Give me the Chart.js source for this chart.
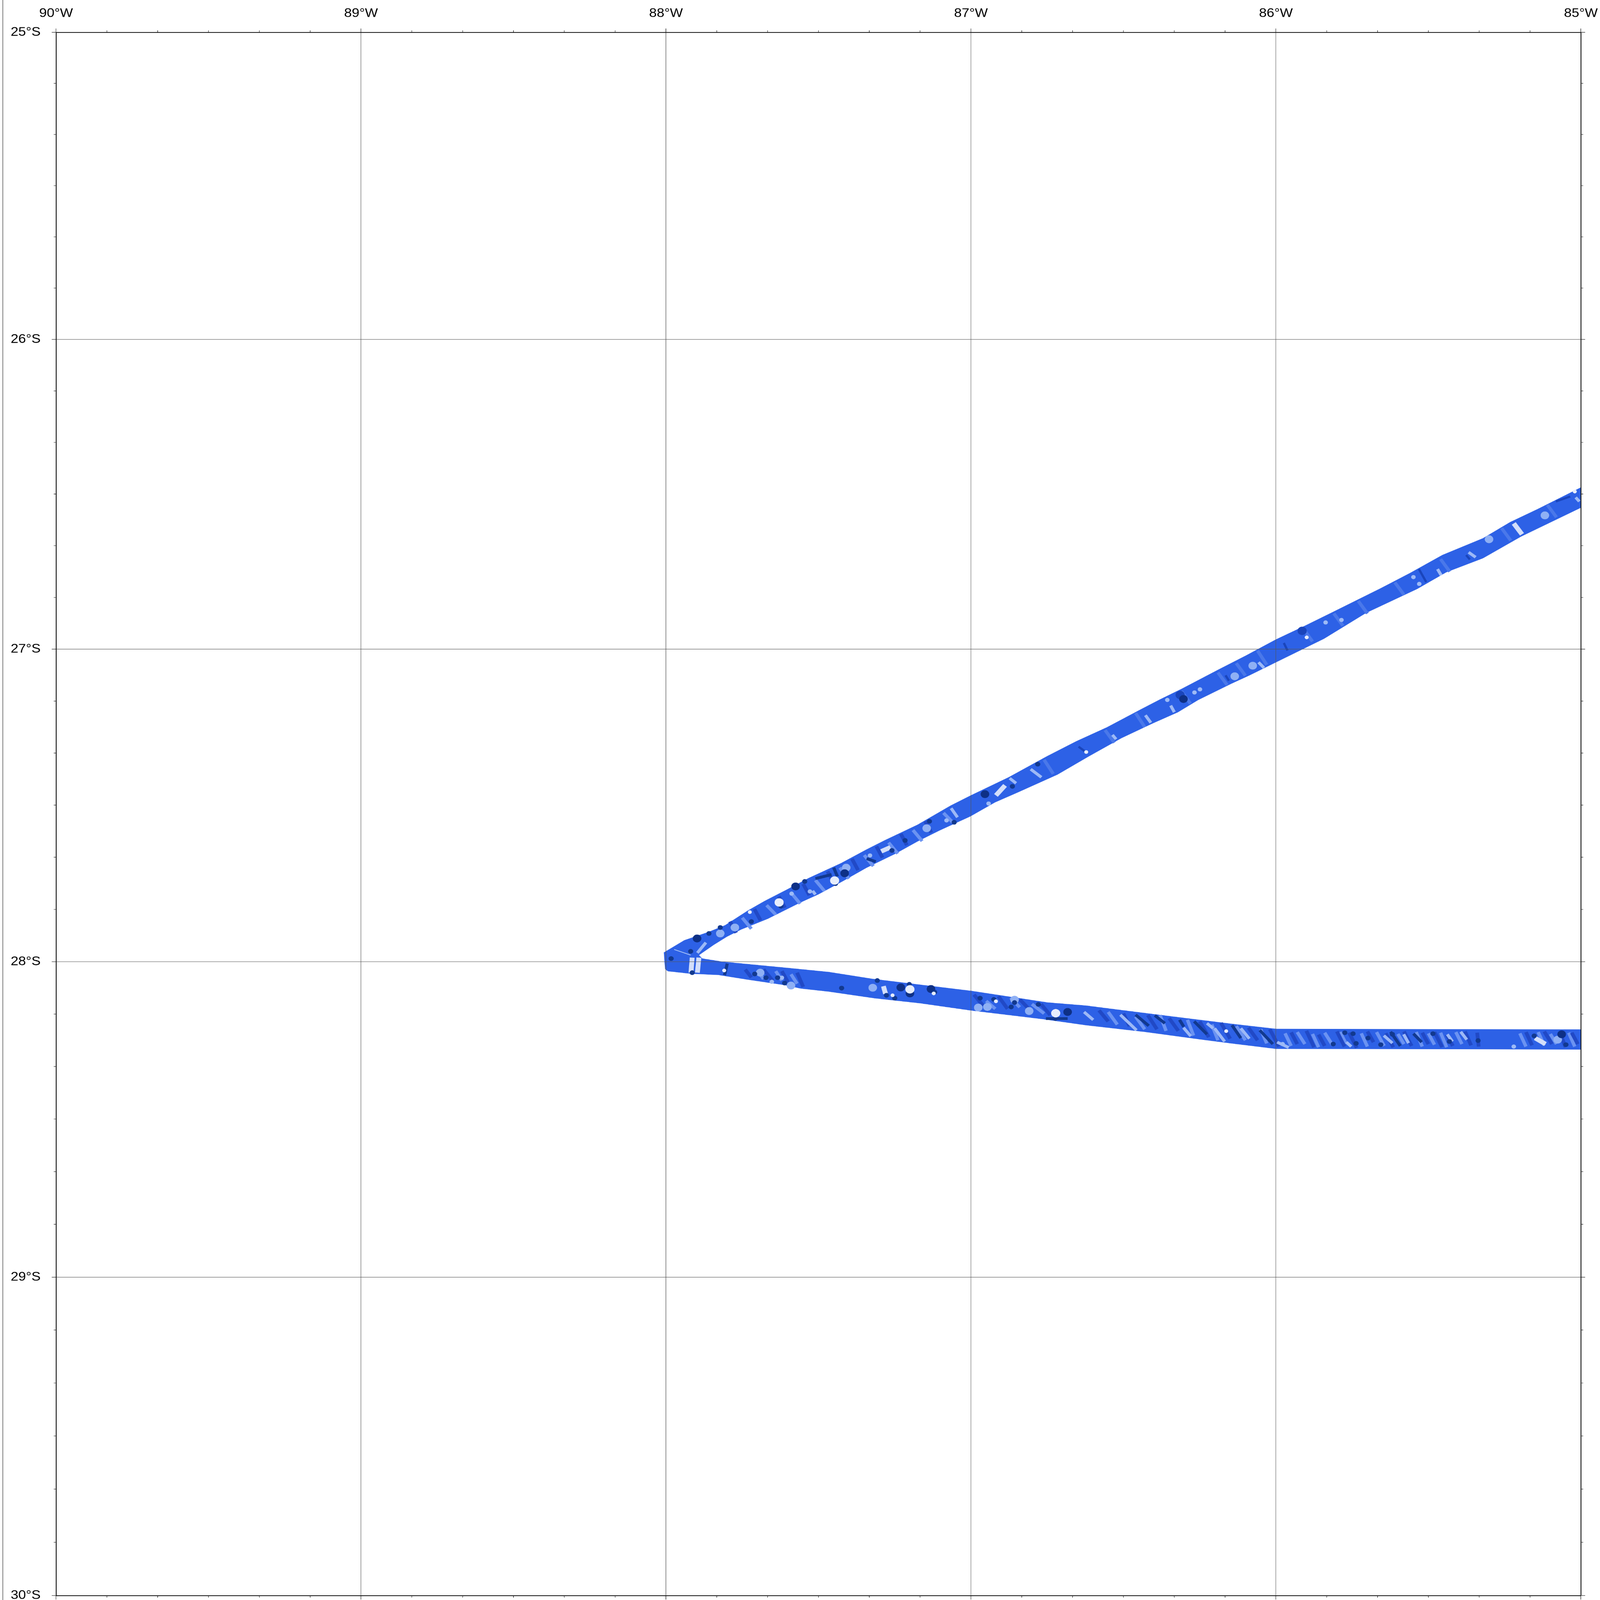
<!DOCTYPE html>
<html>
<head>
<meta charset="utf-8">
<style>
  html, body { margin: 0; padding: 0; background: #fff; overflow: hidden; }
  canvas { display: block; width: 100vw !important; height: 100vh !important; }
</style>
<script src="https://cdn.jsdelivr.net/npm/chart.js@4/dist/chart.umd.min.js"></script>
</head>
<body>
<canvas id="map" width="5598" height="6127"></canvas>
<script>
const lonTicks = [-90, -89, -88, -87, -86, -85];
const lonLabels = ['90°W', '89°W', '88°W', '87°W', '86°W', '85°W'];
const latTicks = [-30, -29, -28, -27, -26, -25];
const latLabels = ['30°S', '29°S', '28°S', '27°S', '26°S', '25°S'];
const minorPerDegree = 6;

// swath outline, lon/lat pairs, clockwise from the west tip
const swathOutline = [
  [-88.007,-27.971],[-87.976,-27.953],[-87.940,-27.932],[-87.859,-27.905],[-87.806,-27.884],[-87.731,-27.837],
  [-87.677,-27.807],[-87.607,-27.772],[-87.531,-27.733],[-87.426,-27.686],[-87.342,-27.642],[-87.283,-27.613],
  [-87.175,-27.563],[-87.067,-27.502],[-87.002,-27.470],[-86.876,-27.411],[-86.751,-27.344],[-86.655,-27.296],
  [-86.554,-27.251],[-86.446,-27.195],[-86.381,-27.162],[-86.308,-27.127],[-86.189,-27.066],[-86.099,-27.021],
  [-86.000,-26.969],[-85.903,-26.924],[-85.812,-26.880],[-85.656,-26.804],[-85.560,-26.755],[-85.454,-26.697],
  [-85.321,-26.643],[-85.232,-26.591],[-85.142,-26.549],[-85.000,-26.479],
  [-85.000,-26.544],[-85.196,-26.637],[-85.321,-26.707],[-85.441,-26.752],[-85.537,-26.806],[-85.704,-26.883],
  [-85.842,-26.966],[-86.000,-27.042],[-86.087,-27.084],[-86.147,-27.111],[-86.255,-27.163],[-86.321,-27.202],
  [-86.404,-27.238],[-86.506,-27.285],[-86.614,-27.344],[-86.716,-27.402],[-86.846,-27.459],[-86.921,-27.491],
  [-87.002,-27.536],[-87.103,-27.581],[-87.175,-27.616],[-87.247,-27.655],[-87.342,-27.700],[-87.420,-27.743],
  [-87.500,-27.785],[-87.559,-27.811],[-87.666,-27.863],[-87.753,-27.897],[-87.800,-27.920],[-87.843,-27.946],
  [-87.892,-27.979],
  [-87.881,-27.990],[-87.816,-28.000],[-87.612,-28.019],[-87.466,-28.033],[-87.322,-28.055],[-87.179,-28.072],
  [-87.000,-28.093],[-86.749,-28.130],[-86.622,-28.140],[-86.517,-28.153],[-86.336,-28.175],[-86.144,-28.198],
  [-86.000,-28.214],[-85.000,-28.216],
  [-85.000,-28.279],[-86.000,-28.277],[-86.144,-28.260],[-86.240,-28.248],[-86.431,-28.223],[-86.622,-28.202],
  [-86.761,-28.183],[-87.000,-28.155],[-87.167,-28.132],[-87.317,-28.116],[-87.466,-28.095],[-87.559,-28.085],
  [-87.612,-28.074],[-87.731,-28.057],[-87.828,-28.042],[-87.919,-28.038],[-87.994,-28.030],[-88.003,-28.023],
];

// relief in the swath: spots as lon/lat, streaks as lon1,lat1,lon2,lat2
const darkLarge = [
  [-87.230,-28.082],[-87.200,-28.101],[-87.131,-28.087],[-86.683,-28.160],[-85.063,-28.231],[-87.898,-27.926],
  [-86.954,-27.465],[-87.414,-27.718],[-86.303,-27.160],[-87.575,-27.760],
];
const darkSmall = [
  [-87.919,-27.967],[-87.983,-27.990],[-87.914,-28.035],[-87.709,-28.039],[-87.672,-28.051],[-87.634,-28.051],
  [-87.611,-28.068],[-87.424,-28.084],[-87.307,-28.060],[-87.277,-28.107],[-87.250,-28.116],[-87.202,-28.072],
  [-87.119,-28.097],[-86.925,-28.120],[-86.857,-28.130],[-86.970,-28.116],[-86.868,-28.144],[-86.779,-28.136],
  [-86.724,-28.181],[-85.774,-28.226],[-85.747,-28.229],[-85.698,-28.243],[-85.737,-28.260],[-85.812,-28.262],
  [-85.656,-28.264],[-85.618,-28.231],[-85.337,-28.251],[-85.153,-28.236],[-85.431,-28.254],[-85.485,-28.229],
  [-85.049,-28.264],[-87.720,-27.872],[-87.822,-27.891],[-87.859,-27.910],[-87.623,-27.823],[-87.545,-27.744],
  [-87.444,-27.751],[-87.259,-27.645],[-87.216,-27.613],[-87.136,-27.552],[-87.055,-27.555],[-86.864,-27.440],
  [-86.781,-27.369],
];
const paleLarge = [
  [-87.322,-28.083],[-86.857,-28.121],[-86.976,-28.146],[-86.946,-28.144],[-86.809,-28.157],[-87.590,-28.076],
  [-87.409,-27.700],[-87.145,-27.574],[-87.774,-27.891],[-87.822,-27.910],[-85.301,-26.646],[-85.118,-26.569],
  [-85.076,-28.248],[-86.135,-27.087],[-86.076,-27.053],[-87.691,-28.035],
];
const paleSmall = [
  [-87.653,-28.064],[-87.620,-28.051],[-87.331,-27.661],[-87.588,-27.783],[-87.528,-27.776],[-87.080,-27.549],
  [-86.942,-27.495],[-86.356,-27.163],[-86.267,-27.139],[-86.249,-27.129],[-85.837,-26.914],[-85.785,-26.906],
  [-85.530,-26.790],[-85.549,-26.768],[-85.220,-28.270],[-85.978,-28.262],
];
const whiteLarge = [[-87.200,-28.088],[-86.722,-28.164],[-87.629,-27.811],[-87.447,-27.741]];
const whiteSmall = [
  [-87.809,-28.028],[-87.257,-28.107],[-87.122,-28.101],[-86.918,-28.126],[-87.725,-27.842],[-86.163,-28.221],
  [-85.899,-26.962],[-86.622,-27.330],[-85.020,-26.492],
];
const deepSpots = [[-86.314,-27.147],[-85.914,-26.941]];
const whiteStreaks = [
  [-87.914,-27.987,-87.918,-28.035],[-87.892,-27.987,-87.897,-28.035],[-87.287,-28.078,-87.280,-28.102],
  [-87.294,-27.648,-87.264,-27.635],[-86.888,-27.437,-86.918,-27.469],[-85.220,-26.595,-85.193,-26.630],
  [-85.150,-28.243,-85.116,-28.262],
];
const paleStreaks = [
  [-87.869,-27.939,-87.897,-27.972],[-86.629,-28.160,-86.599,-28.185],[-86.510,-28.169,-86.457,-28.218],
  [-86.303,-28.210,-86.279,-28.237],[-86.201,-28.212,-86.168,-28.254],[-86.226,-28.196,-86.206,-28.212],
  [-86.115,-28.212,-86.087,-28.245],[-85.996,-28.256,-85.958,-28.273],[-85.769,-28.256,-85.753,-28.270],
  [-85.646,-28.235,-85.618,-28.259],[-85.581,-28.231,-85.565,-28.259],[-85.438,-28.231,-85.421,-28.254],
  [-85.394,-28.223,-85.374,-28.248],[-87.519,-27.774,-87.510,-27.786],[-87.065,-27.510,-87.044,-27.539],
  [-86.873,-27.414,-86.852,-27.430],[-86.804,-27.385,-86.769,-27.411],[-86.536,-27.275,-86.524,-27.289],
  [-86.428,-27.212,-86.410,-27.236],[-86.345,-27.181,-86.333,-27.202],[-86.057,-27.042,-86.039,-27.060],
  [-85.470,-26.742,-85.458,-26.762],[-85.368,-26.688,-85.345,-26.704],[-85.017,-26.511,-85.005,-26.524],
];
const darkStreaks = [
  [-87.799,-28.006,-87.808,-28.043],[-86.754,-28.181,-86.683,-28.181],[-86.460,-28.169,-86.417,-28.204],
  [-86.397,-28.171,-86.364,-28.196],[-86.316,-28.185,-86.302,-28.207],[-86.268,-28.190,-86.226,-28.231],
  [-86.144,-28.202,-86.115,-28.243],[-86.053,-28.218,-86.010,-28.262],[-85.624,-28.223,-85.592,-28.268],
  [-85.549,-28.229,-85.522,-28.256],[-87.510,-27.735,-87.457,-27.722],[-87.450,-27.700,-87.438,-27.728],
  [-87.342,-27.671,-87.312,-27.681],
];
const deepStreaks = [
  [-85.082,-26.524,-85.035,-26.508],[-86.647,-27.313,-86.619,-27.333],[-86.165,-27.084,-86.154,-27.101],
  [-85.974,-26.980,-85.962,-27.004],[-85.531,-26.742,-85.507,-26.784],[-85.376,-26.697,-85.364,-26.711],
];
const ridgeLines = [[-87.973,-27.961,-87.919,-27.979]];

// broad mottling across the track, under the sharper relief above
const mottleShade = [
  [-85.95,-28.225,-85.93,-28.262],[-85.90,-28.220,-85.875,-28.272],[-85.86,-28.232,-85.84,-28.268],
  [-85.80,-28.222,-85.775,-28.270],[-85.76,-28.226,-85.735,-28.274],[-85.70,-28.222,-85.68,-28.256],
  [-85.64,-28.228,-85.615,-28.272],[-85.58,-28.222,-85.555,-28.268],[-85.52,-28.226,-85.50,-28.262],
  [-85.48,-28.224,-85.455,-28.272],[-85.44,-28.232,-85.42,-28.268],[-85.38,-28.222,-85.36,-28.266],
  [-85.34,-28.226,-85.335,-28.270],[-85.18,-28.224,-85.16,-28.266],[-85.12,-28.222,-85.095,-28.262],
  [-85.07,-28.224,-85.05,-28.272],[-85.03,-28.226,-85.01,-28.262],
  [-86.58,-28.155,-86.55,-28.190],[-86.50,-28.165,-86.48,-28.205],[-86.42,-28.170,-86.39,-28.215],
  [-86.35,-28.180,-86.32,-28.220],[-86.25,-28.190,-86.22,-28.240],[-86.18,-28.195,-86.15,-28.245],
  [-86.09,-28.210,-86.06,-28.250],[-86.02,-28.215,-85.99,-28.270],
  [-86.99,-28.105,-86.96,-28.140],[-86.91,-28.110,-86.88,-28.150],[-86.84,-28.120,-86.80,-28.160],
  [-86.77,-28.135,-86.74,-28.170],
  [-87.74,-28.025,-87.72,-28.050],[-87.68,-28.025,-87.65,-28.060],[-87.62,-28.030,-87.60,-28.065],
  [-87.57,-28.035,-87.55,-28.080],
  [-87.79,-27.872,-87.77,-27.908],[-87.71,-27.832,-87.69,-27.868],[-87.63,-27.792,-87.61,-27.828],
  [-87.55,-27.752,-87.53,-27.788],[-87.47,-27.712,-87.45,-27.748],[-87.39,-27.672,-87.37,-27.708],
  [-87.31,-27.632,-87.29,-27.668],[-87.23,-27.592,-87.21,-27.628],[-87.15,-27.552,-87.13,-27.588],
];
const mottleMid = [
  [-85.97,-28.228,-85.95,-28.268],[-85.93,-28.224,-85.905,-28.262],[-85.88,-28.230,-85.86,-28.272],
  [-85.84,-28.226,-85.815,-28.264],[-85.79,-28.224,-85.77,-28.260],[-85.72,-28.228,-85.70,-28.270],
  [-85.67,-28.224,-85.645,-28.268],[-85.60,-28.230,-85.58,-28.262],[-85.54,-28.224,-85.52,-28.270],
  [-85.50,-28.228,-85.48,-28.264],[-85.46,-28.226,-85.44,-28.272],[-85.41,-28.224,-85.39,-28.262],
  [-85.20,-28.228,-85.18,-28.270],[-85.14,-28.224,-85.12,-28.266],[-85.10,-28.230,-85.08,-28.262],
  [-85.04,-28.226,-85.02,-28.270],
  [-86.55,-28.160,-86.52,-28.200],[-86.46,-28.175,-86.43,-28.215],[-86.38,-28.170,-86.36,-28.220],
  [-86.29,-28.185,-86.27,-28.235],[-86.21,-28.200,-86.19,-28.250],[-86.13,-28.205,-86.10,-28.250],
  [-86.05,-28.215,-86.03,-28.260],
  [-86.95,-28.125,-86.92,-28.150],[-86.87,-28.115,-86.84,-28.145],[-86.80,-28.135,-86.76,-28.165],
  [-87.70,-28.030,-87.68,-28.055],[-87.64,-28.030,-87.62,-28.060],[-87.59,-28.040,-87.57,-28.070],
  [-87.75,-27.860,-87.72,-27.895],[-87.67,-27.820,-87.64,-27.850],[-87.59,-27.780,-87.56,-27.815],
  [-87.51,-27.740,-87.48,-27.775],[-87.43,-27.700,-87.40,-27.735],[-87.35,-27.660,-87.32,-27.695],
  [-87.27,-27.620,-87.24,-27.655],[-87.19,-27.580,-87.16,-27.615],[-87.09,-27.525,-87.06,-27.555],
];
const mottleFaint = [
  [-86.76,-27.355,-86.73,-27.400],[-86.56,-27.260,-86.53,-27.300],[-86.46,-27.205,-86.43,-27.250],
  [-86.31,-27.135,-86.28,-27.175],[-86.19,-27.075,-86.16,-27.115],[-86.13,-27.045,-86.10,-27.085],
  [-86.06,-27.005,-86.03,-27.050],[-85.91,-26.935,-85.88,-26.975],[-85.81,-26.885,-85.78,-26.925],
  [-85.73,-26.845,-85.70,-26.885],[-85.61,-26.785,-85.58,-26.825],[-85.46,-26.710,-85.43,-26.750],
  [-85.26,-26.610,-85.23,-26.650],[-85.11,-26.535,-85.08,-26.575],
];

// Mercator northing, the map's y axis is linear in this
function merc(lat) {
  return Math.log(Math.tan(Math.PI / 4 + lat * Math.PI / 360));
}
const spot = (pairs) => pairs.map(([lon, lat]) => ({ x: lon, y: merc(lat) }));
function streak(rows) {
  const out = [];
  rows.forEach(([a, b, c, d]) => {
    out.push({ x: a, y: merc(b) }, { x: c, y: merc(d) }, { x: null, y: null });
  });
  return out;
}

const spotSet = (pairs, color, radius) => ({
  data: spot(pairs), showLine: false, pointStyle: 'circle',
  pointRadius: radius, pointBorderWidth: 0, pointBackgroundColor: color,
});
const streakSet = (rows, color, width) => ({
  data: streak(rows), showLine: true, spanGaps: false, pointRadius: 0,
  borderColor: color, borderWidth: width, borderCapStyle: 'butt',
});

// minor ticks round the frame, page rule at the far left
const frameTicks = {
  id: 'frameTicks',
  afterDraw(chart) {
    const { ctx, chartArea: a, scales } = chart;
    const len = 8;
    ctx.save();
    ctx.strokeStyle = '#111';
    ctx.lineWidth = 1.5;
    ctx.beginPath();
    for (let d = 0; d < lonTicks.length - 1; d++) {
      for (let m = 1; m < minorPerDegree; m++) {
        const x = scales.x.getPixelForValue(lonTicks[d] + m / minorPerDegree);
        ctx.moveTo(x, a.top); ctx.lineTo(x, a.top - len);
        ctx.moveTo(x, a.bottom); ctx.lineTo(x, a.bottom + len);
        const y = scales.y.getPixelForValue(merc(latTicks[d] + m / minorPerDegree));
        ctx.moveTo(a.left, y); ctx.lineTo(a.left - len, y);
        ctx.moveTo(a.right, y); ctx.lineTo(a.right + len, y);
      }
    }
    ctx.stroke();
    ctx.strokeStyle = '#444';
    ctx.lineWidth = 2;
    ctx.beginPath();
    ctx.moveTo(10, 0); ctx.lineTo(10, chart.height);
    ctx.stroke();
    ctx.restore();
  },
};

const lonScale = (position, size, labelled) => ({
  type: 'linear', position, min: lonTicks[0], max: lonTicks[lonTicks.length - 1],
  afterBuildTicks: (s) => { s.ticks = lonTicks.map((v) => ({ value: v })); },
  afterFit: (s) => { s.height = size; s.paddingLeft = 0; s.paddingRight = 0; },
  border: { display: true, color: '#111', width: 3, z: 2 },
  grid: {
    z: 1, drawOnChartArea: labelled, color: '#555', lineWidth: 1.5,
    tickColor: '#111', tickWidth: 1.5, tickLength: 15,
  },
  ticks: {
    display: labelled, autoSkip: false, maxRotation: 0, padding: 28, color: '#000',
    font: { family: '"Liberation Sans"', size: 48 },
    callback: (v, i) => lonLabels[i],
  },
});
const latScale = (position, size, labelled) => ({
  type: 'linear', position, min: merc(latTicks[0]), max: merc(latTicks[latTicks.length - 1]),
  afterBuildTicks: (s) => { s.ticks = latTicks.map((v) => ({ value: merc(v) })); },
  afterFit: (s) => { s.width = size; s.paddingTop = 0; s.paddingBottom = 0; },
  border: { display: true, color: '#111', width: 3, z: 2 },
  grid: {
    z: 1, drawOnChartArea: labelled, color: '#555', lineWidth: 1.5,
    tickColor: '#111', tickWidth: 1.5, tickLength: 15,
  },
  ticks: {
    display: labelled, autoSkip: false, padding: 39, color: '#000',
    font: { family: '"Liberation Sans"', size: 48 },
    callback: (v, i) => latLabels[i],
  },
});

new Chart(document.getElementById('map'), {
  type: 'scatter',
  data: {
    // first dataset is painted last
    datasets: [
      spotSet(whiteSmall, '#e6edfc', 7),
      spotSet(whiteLarge, '#e6edfc', 16),
      spotSet(darkSmall, '#12398f', 9),
      spotSet(darkLarge, '#0e3086', 15),
      spotSet(deepSpots, '#1a45bb', 16),
      spotSet(paleSmall, '#9dbaf6', 8),
      spotSet(paleLarge, '#8fb0f4', 15),
      streakSet(ridgeLines, '#a9c4f7', 3),
      streakSet(darkStreaks, '#12398f', 11),
      streakSet(deepStreaks, '#1a45bb', 8),
      streakSet(whiteStreaks, '#d3dffa', 17),
      streakSet(paleStreaks, '#9db9f6', 11),
      streakSet(mottleShade, '#2149c6', 13),
      streakSet(mottleMid, '#6b93f2', 12),
      streakSet(mottleFaint, '#4a78ea', 12),
      {
        data: spot(swathOutline), showLine: true, pointRadius: 0, fill: 'shape',
        borderColor: '#2d61e6', borderWidth: 1, backgroundColor: '#2d61e6',
      },
    ],
  },
  options: {
    responsive: false,
    animation: false,
    devicePixelRatio: 1,
    layout: { padding: 0 },
    plugins: { legend: { display: false }, tooltip: { enabled: false } },
    scales: {
      x: lonScale('top', 124, true),
      xBottom: lonScale('bottom', 17, false),
      y: latScale('left', 196, true),
      yRight: latScale('right', 67, false),
    },
  },
  plugins: [frameTicks],
});
</script>
</body>
</html>
